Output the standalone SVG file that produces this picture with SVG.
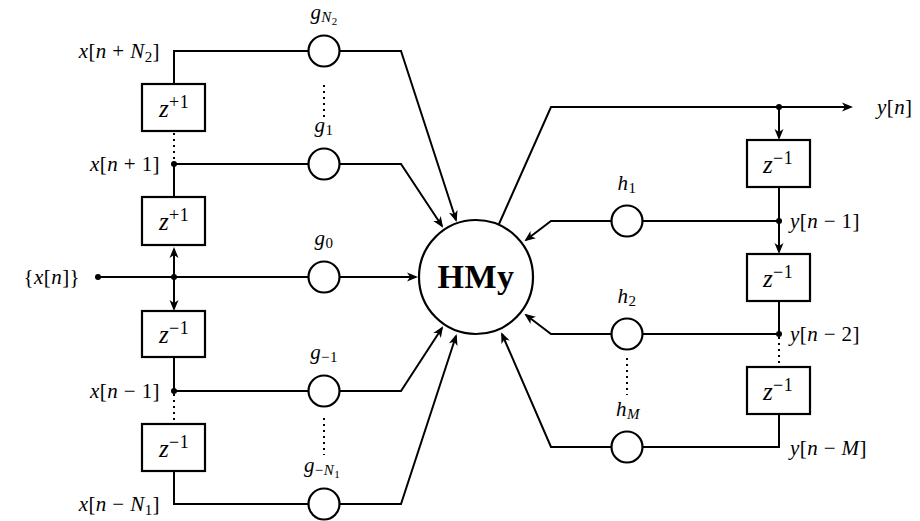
<svg xmlns="http://www.w3.org/2000/svg" width="920" height="521" viewBox="0 0 920 521">
<defs>
<marker id="arr" viewBox="-11 -6 14 12" refX="0" refY="0" markerWidth="14" markerHeight="12" markerUnits="userSpaceOnUse" orient="auto">
<path d="M2,0 L-9,-4.5 L-6,0 L-9,4.5 Z" fill="#000"/>
</marker>
<style>
.ln{fill:none;stroke:#000;stroke-width:2}
.dot{fill:none;stroke:#000;stroke-width:2;stroke-dasharray:2 4}
.box{fill:#fff;stroke:#000;stroke-width:2.2}
.gc{fill:#fff;stroke:#000;stroke-width:2.2}
.jn{fill:#000}
text{font-family:"Liberation Serif","Times New Roman",serif;font-size:21px;fill:#000;letter-spacing:0.4px}
.i{font-style:italic}
.s{font-size:15px}
.ss{font-size:11px}
.bz{font-size:25px}
.bs{font-size:18px}
.big{font-size:34px;font-weight:bold;letter-spacing:0.5px}
</style>
</defs>

<g id="connectors">
<polyline class="ln" points="174,84 174,51 309,51"/>
<line class="dot" x1="174" y1="133" x2="174" y2="162"/>
<line class="ln" x1="174" y1="164" x2="174" y2="197"/>
<line class="ln" x1="174" y1="164" x2="309" y2="164"/>
<line class="ln" x1="98" y1="277" x2="309" y2="277"/>
<line class="ln" x1="174" y1="277" x2="174" y2="249" marker-end="url(#arr)"/>
<line class="ln" x1="174" y1="277" x2="174" y2="309" marker-end="url(#arr)"/>
<line class="ln" x1="174" y1="357" x2="174" y2="391"/>
<line class="ln" x1="174" y1="391" x2="309" y2="391"/>
<line class="dot" x1="174" y1="394" x2="174" y2="423"/>
<polyline class="ln" points="174,471 174,504 309,504"/>
<polyline class="ln" points="340,51 401,51 456,220" marker-end="url(#arr)"/>
<polyline class="ln" points="340,164 401,164 442,226" marker-end="url(#arr)"/>
<line class="ln" x1="340" y1="277" x2="416" y2="277" marker-end="url(#arr)"/>
<polyline class="ln" points="340,391 401,391 442,328" marker-end="url(#arr)"/>
<polyline class="ln" points="340,504 401,504 456,336" marker-end="url(#arr)"/>
<line class="dot" x1="324" y1="85" x2="324" y2="118"/>
<line class="dot" x1="324" y1="418" x2="324" y2="455"/>
<polyline class="ln" points="499,224 551,107 851,107" marker-end="url(#arr)"/>
<line class="ln" x1="779" y1="107" x2="779" y2="138" marker-end="url(#arr)"/>
<line class="ln" x1="779" y1="187" x2="779" y2="221"/>
<line class="ln" x1="779" y1="221" x2="779" y2="252" marker-end="url(#arr)"/>
<line class="ln" x1="779" y1="301" x2="779" y2="334"/>
<line class="dot" x1="779" y1="337" x2="779" y2="366"/>
<polyline class="ln" points="779,414 779,447 642,447"/>
<line class="ln" x1="779" y1="221" x2="642" y2="221"/>
<line class="ln" x1="779" y1="334" x2="642" y2="334"/>
<polyline class="ln" points="612,221 551,221 526,240" marker-end="url(#arr)"/>
<polyline class="ln" points="612,334 551,334 526,315" marker-end="url(#arr)"/>
<polyline class="ln" points="612,447 551,447 502,334" marker-end="url(#arr)"/>
<line class="dot" x1="627" y1="358" x2="627" y2="395"/>
<circle class="jn" cx="98" cy="277" r="3"/>
<circle class="jn" cx="174" cy="164" r="3"/>
<circle class="jn" cx="174" cy="277" r="3"/>
<circle class="jn" cx="174" cy="391" r="3"/>
<circle class="jn" cx="779" cy="107" r="3"/>
<circle class="jn" cx="779" cy="221" r="3"/>
<circle class="jn" cx="779" cy="334" r="3"/>
</g>

<g id="input">
<text x="80" y="284" text-anchor="end">{<tspan class="i">x</tspan>[<tspan class="i">n</tspan>]}</text>
</g>

<g id="zp1a">
<rect class="box" x="142" y="84" width="63" height="47"/>
<text x="174" y="117" text-anchor="middle" class="bz"><tspan class="i">z</tspan><tspan class="bs" dy="-9">+1</tspan></text>
</g>
<g id="zp1b">
<rect class="box" x="142" y="197" width="63" height="48"/>
<text x="174" y="230" text-anchor="middle" class="bz"><tspan class="i">z</tspan><tspan class="bs" dy="-9">+1</tspan></text>
</g>
<g id="zm1a">
<rect class="box" x="142" y="311" width="63" height="46"/>
<text x="174" y="343" text-anchor="middle" class="bz"><tspan class="i">z</tspan><tspan class="bs" dy="-9">−1</tspan></text>
</g>
<g id="zm1b">
<rect class="box" x="142" y="424" width="63" height="47"/>
<text x="174" y="457" text-anchor="middle" class="bz"><tspan class="i">z</tspan><tspan class="bs" dy="-9">−1</tspan></text>
</g>

<g id="lblx">
<text x="160" y="58" text-anchor="end"><tspan class="i">x</tspan>[<tspan class="i">n</tspan> + <tspan class="i">N</tspan><tspan class="s" dy="4">2</tspan><tspan dy="-4">]</tspan></text>
<text x="160" y="171" text-anchor="end"><tspan class="i">x</tspan>[<tspan class="i">n</tspan> + 1]</text>
<text x="160" y="398" text-anchor="end"><tspan class="i">x</tspan>[<tspan class="i">n</tspan> − 1]</text>
<text x="160" y="511" text-anchor="end"><tspan class="i">x</tspan>[<tspan class="i">n</tspan> − <tspan class="i">N</tspan><tspan class="s" dy="4">1</tspan><tspan dy="-4">]</tspan></text>
</g>

<g id="gN2">
<circle class="gc" cx="324" cy="51" r="15.5"/>
<text x="324" y="19" text-anchor="middle"><tspan class="i">g</tspan><tspan class="s i" dy="3">N</tspan><tspan class="ss" dy="3">2</tspan></text>
</g>
<g id="g1">
<circle class="gc" cx="324" cy="164" r="15.5"/>
<text x="324" y="132" text-anchor="middle"><tspan class="i">g</tspan><tspan class="s" dy="3">1</tspan></text>
</g>
<g id="g0">
<circle class="gc" cx="324" cy="277" r="15.5"/>
<text x="324" y="245" text-anchor="middle"><tspan class="i">g</tspan><tspan class="s" dy="3">0</tspan></text>
</g>
<g id="gm1">
<circle class="gc" cx="324" cy="391" r="15.5"/>
<text x="324" y="359" text-anchor="middle"><tspan class="i">g</tspan><tspan class="s" dy="3">−1</tspan></text>
</g>
<g id="gmN1">
<circle class="gc" cx="324" cy="504" r="15.5"/>
<text x="322" y="472" text-anchor="middle"><tspan class="i">g</tspan><tspan class="s" dy="3">−</tspan><tspan class="s i">N</tspan><tspan class="ss" dy="3">1</tspan></text>
</g>

<g id="hmy">
<circle class="gc" cx="476" cy="277" r="57"/>
<text x="476" y="288" text-anchor="middle" class="big">HMy</text>
</g>

<g id="h1">
<circle class="gc" cx="627" cy="221" r="15.5"/>
<text x="627" y="190" text-anchor="middle"><tspan class="i">h</tspan><tspan class="s" dy="3">1</tspan></text>
</g>
<g id="h2">
<circle class="gc" cx="627" cy="334" r="15.5"/>
<text x="627" y="303" text-anchor="middle"><tspan class="i">h</tspan><tspan class="s" dy="3">2</tspan></text>
</g>
<g id="hM">
<circle class="gc" cx="627" cy="447" r="15.5"/>
<text x="628" y="416" text-anchor="middle"><tspan class="i">h</tspan><tspan class="s i" dy="3">M</tspan></text>
</g>

<g id="zr1">
<rect class="box" x="747" y="140" width="63" height="47"/>
<text x="778" y="173" text-anchor="middle" class="bz"><tspan class="i">z</tspan><tspan class="bs" dy="-9">−1</tspan></text>
</g>
<g id="zr2">
<rect class="box" x="747" y="254" width="63" height="47"/>
<text x="778" y="287" text-anchor="middle" class="bz"><tspan class="i">z</tspan><tspan class="bs" dy="-9">−1</tspan></text>
</g>
<g id="zr3">
<rect class="box" x="747" y="367" width="63" height="47"/>
<text x="778" y="400" text-anchor="middle" class="bz"><tspan class="i">z</tspan><tspan class="bs" dy="-9">−1</tspan></text>
</g>

<g id="lbly">
<text x="877" y="114"><tspan class="i">y</tspan>[<tspan class="i">n</tspan>]</text>
<text x="790" y="228"><tspan class="i">y</tspan>[<tspan class="i">n</tspan> − 1]</text>
<text x="790" y="341"><tspan class="i">y</tspan>[<tspan class="i">n</tspan> − 2]</text>
<text x="790" y="455"><tspan class="i">y</tspan>[<tspan class="i">n</tspan> − <tspan class="i">M</tspan>]</text>
</g>
</svg>
